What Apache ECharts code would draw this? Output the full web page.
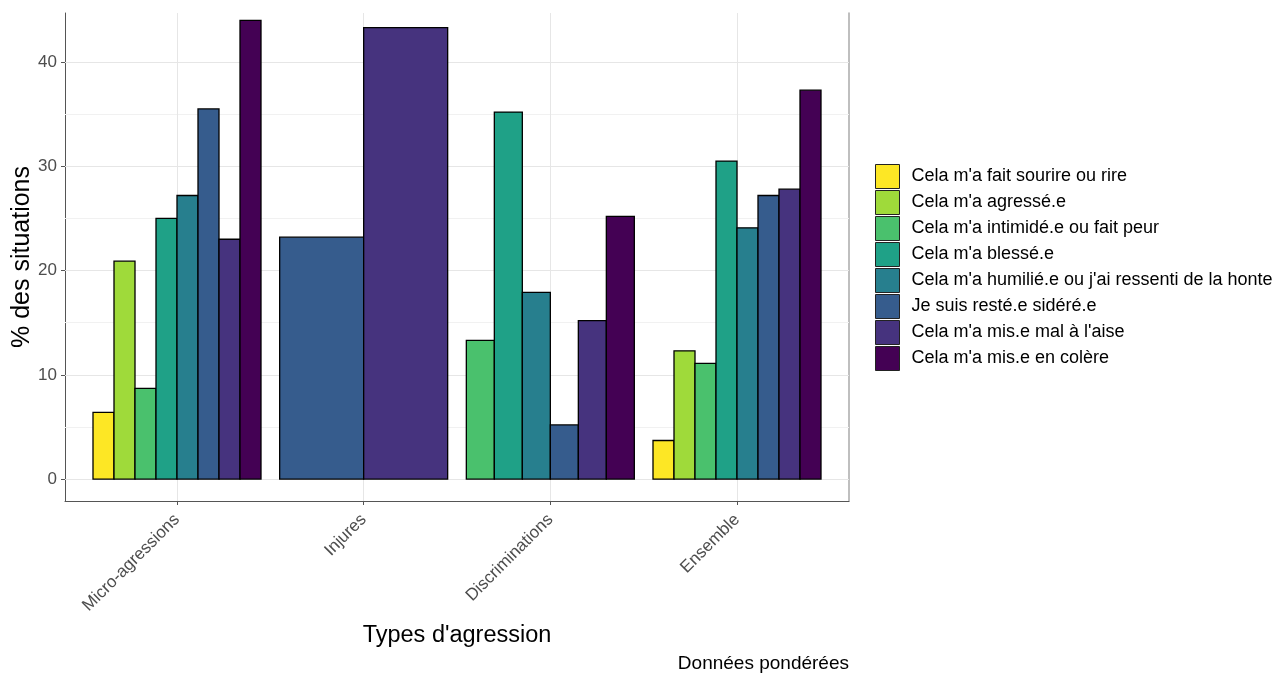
<!DOCTYPE html>
<html>
<head>
<meta charset="utf-8">
<script src="https://cdn.jsdelivr.net/npm/echarts@6/dist/echarts.min.js"></script>
<style>
html,body{margin:0;padding:0;background:#fff;}
#chart{width:1276px;height:673px;}
</style>
</head>
<body>
<div id="chart"></div>
<script>
const categories = ["Micro-agressions", "Injures", "Discriminations", "Ensemble"];
const seriesNames = [
  "Cela m'a fait sourire ou rire",
  "Cela m'a agressé.e",
  "Cela m'a intimidé.e ou fait peur",
  "Cela m'a blessé.e",
  "Cela m'a humilié.e ou j'ai ressenti de la honte",
  "Je suis resté.e sidéré.e",
  "Cela m'a mis.e mal à l'aise",
  "Cela m'a mis.e en colère"
];
// values per category (Micro-agressions, Injures, Discriminations, Ensemble); null = absent
const sourireRire = [6.4, null, null, 3.7];
const agresse     = [20.9, null, null, 12.3];
const intimide    = [8.7, null, 13.3, 11.1];
const blesse      = [25.0, null, 35.2, 30.5];
const humilie     = [27.2, null, 17.9, 24.1];
const sidere      = [35.5, 23.2, 5.2, 27.2];
const malAise     = [23.0, 43.3, 15.2, 27.8];
const colere      = [44.0, null, 25.2, 37.3];
const yTicks = [0, 10, 20, 30, 40];
const yMinorTicks = [5, 15, 25, 35];

const allValues = [sourireRire, agresse, intimide, blesse, humilie, sidere, malAise, colere];
const palette = ["#FDE725", "#9FDA3A", "#4AC16D", "#1FA187", "#277F8E", "#365C8D", "#46337E", "#440154"];
const FONT = "Liberation Sans, Arial, Helvetica, sans-serif";

// dodge positions (ggplot position_dodge, width 0.9)
function buildData(si) {
  const out = [];
  categories.forEach((c, ci) => {
    const present = allValues.map((arr, k) => arr[ci] != null ? k : -1).filter(k => k >= 0);
    const n = present.length;
    const k = present.indexOf(si);
    if (k < 0) return;
    const w = 0.9 / n;
    const x = (ci + 1) - 0.45 + w * (k + 0.5);
    out.push([x, allValues[si][ci], w]);
  });
  return out;
}

function renderItem(params, api) {
  const x = api.value(0), y = api.value(1), w = api.value(2);
  const p0 = api.coord([x - w / 2, y]);
  const p1 = api.coord([x + w / 2, 0]);
  return {
    type: 'rect',
    shape: { x: p0[0], y: p0[1], width: p1[0] - p0[0], height: p1[1] - p0[1] },
    style: { fill: api.visual('color'), stroke: '#000', lineWidth: 1.3 }
  };
}

const series = seriesNames.map((name, si) => ({
  type: 'custom',
  name: name,
  renderItem: renderItem,
  data: buildData(si),
  encode: { x: 0, y: 1 },
  itemStyle: { color: palette[si] },
  z: 3,
  animation: false
}));

series.push({
  type: 'custom',
  name: '__grid',
  renderItem: () => null,
  data: [],
  silent: true,
  z: 1,
  markLine: {
    silent: true,
    symbol: 'none',
    z: 1,
    animation: false,
    label: { show: false },
    data: [
      ...yMinorTicks.map(v => ({ yAxis: v, lineStyle: { color: '#f1f1f1', width: 1, type: 'solid' } })),
      ...yTicks.map(v => ({ yAxis: v, lineStyle: { color: '#e6e6e6', width: 1, type: 'solid' } })),
      ...categories.map((c, i) => ({ xAxis: i + 1, lineStyle: { color: '#e6e6e6', width: 1, type: 'solid' } }))
    ]
  }
});

const chart = echarts.init(document.getElementById('chart'));
chart.setOption({
  animation: false,
  color: palette,
  textStyle: { fontFamily: FONT },
  grid: { left: 65, right: 427, top: 13, bottom: 172, containLabel: false, outerBoundsMode: 'none' },
  title: {
    text: 'Données pondérées',
    right: 427, bottom: 0, padding: 0,
    textStyle: { fontSize: 19, fontWeight: 'normal', color: '#000', fontFamily: FONT }
  },
  legend: {
    orient: 'vertical',
    left: 875, top: 164, padding: 0,
    itemWidth: 24, itemHeight: 24, itemGap: 1,
    icon: 'rect',
    data: seriesNames,
    itemStyle: { borderColor: '#222', borderWidth: 1 },
    textStyle: { fontSize: 18, color: '#000', fontFamily: FONT, padding: [0, 0, 0, 7] },
    selectedMode: false
  },
  xAxis: {
    type: 'value',
    min: 0.4, max: 4.6,
    name: "Types d'agression",
    nameLocation: 'middle',
    nameGap: 123,
    nameMoveOverlap: false,
    nameTextStyle: { fontSize: 23.5, color: '#000', fontFamily: FONT },
    axisLine: { show: true, onZero: false, lineStyle: { color: '#555', width: 1 } },
    axisTick: { show: true, length: 4, customValues: categories.map((c, i) => i + 1), lineStyle: { color: '#555' } },
    axisLabel: {
      customValues: categories.map((c, i) => i + 1),
      formatter: v => categories[Math.round(v) - 1] || '',
      rotate: 45, fontSize: 17, color: '#4d4d4d', margin: 16, fontFamily: FONT
    },
    splitLine: { show: false }
  },
  yAxis: [{
    type: 'value',
    min: -2.1, max: 44.7,
    name: '% des situations',
    nameLocation: 'middle',
    nameGap: 30,
    nameMoveOverlap: false,
    nameTextStyle: { fontSize: 25, color: '#000', fontFamily: FONT },
    axisLine: { show: true, onZero: false, lineStyle: { color: '#555', width: 1 } },
    axisTick: { show: true, length: 4, customValues: yTicks, lineStyle: { color: '#555' } },
    axisLabel: { customValues: yTicks, fontSize: 17, color: '#4d4d4d', margin: 8, fontFamily: FONT },
    splitLine: { show: false }
  }, {
    type: 'value',
    position: 'right',
    min: -2.1, max: 44.7,
    axisLine: { show: true, onZero: false, lineStyle: { color: '#aaaaaa', width: 1.5 } },
    axisTick: { show: false },
    axisLabel: { show: false },
    splitLine: { show: false }
  }],
  series: series
});
</script>
</body>
</html>
